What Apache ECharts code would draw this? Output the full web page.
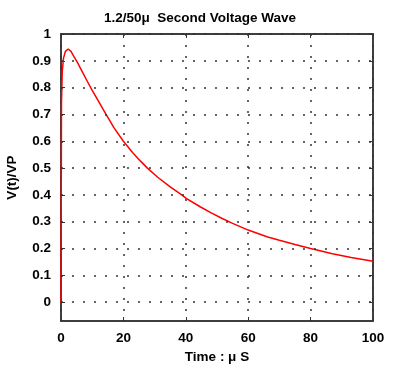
<!DOCTYPE html>
<html><head><meta charset="utf-8">
<script src="https://cdn.jsdelivr.net/npm/echarts@6/dist/echarts.min.js"></script>
<style>html,body{margin:0;padding:0;background:#fff}#c{width:400px;height:365px}</style>
</head><body><div id="c"></div>
<script>
var timeUs = [0, 0.15, 0.4, 0.8, 1.4, 2.3, 3.2, 4.2, 5.3, 7, 8.5, 10, 12, 14.3, 17, 20, 23, 25.5, 27.7, 31, 35, 38.7, 40, 44.6, 48, 51.5, 55, 60, 66, 70, 75, 80, 87, 93, 100];
var voltage = [0, 0.74, 0.86, 0.91, 0.935, 0.944, 0.935, 0.915, 0.893, 0.855, 0.822, 0.79, 0.75, 0.703, 0.65, 0.6, 0.557, 0.526, 0.5, 0.466, 0.43, 0.4, 0.388, 0.356, 0.334, 0.313, 0.294, 0.269, 0.244, 0.231, 0.215, 0.2, 0.181, 0.167, 0.153];
var yTicks = [0, 0.1, 0.2, 0.3, 0.4, 0.5, 0.6, 0.7, 0.8, 0.9, 1];
var xTicks = [0, 20, 40, 60, 80, 100];

var fontFam = '"Liberation Sans", Arial, sans-serif';
var gridLine = {show: true, lineStyle: {color: '#333', type: [2, 9], width: 1.5}};
var chart = echarts.init(document.getElementById('c'));
chart.setOption({
  animation: false,
  title: {text: '1.2/50\u03bc  Second Voltage Wave', left: 'center', top: 6,
    textStyle: {fontFamily: fontFam, fontWeight: 'bold', fontSize: 13.5, color: '#000'}},
  grid: {left: 61, right: 27, top: 34, bottom: 44, show: true, borderColor: '#333', borderWidth: 1.5,
    containLabel: false, outerBoundsMode: 'none'},
  xAxis: [{
    type: 'value', min: 0, max: 100, interval: 20,
    name: 'Time : \u03bc S', nameLocation: 'middle', nameGap: 26,
    nameTextStyle: {fontFamily: fontFam, fontWeight: 'bold', fontSize: 13.5, color: '#000'},
    axisLine: {show: true, onZero: false, lineStyle: {color: '#333', width: 1.5}},
    axisTick: {show: true, inside: true, length: 4, lineStyle: {color: '#333'}},
    axisLabel: {margin: 10, fontFamily: fontFam, fontWeight: 'bold', fontSize: 13.5, color: '#000',
      customValues: xTicks},
    splitLine: gridLine
  }, {
    type: 'value', min: 0, max: 100, interval: 20, position: 'top',
    axisLine: {show: true, onZero: false, lineStyle: {color: '#333', width: 1.5}},
    axisTick: {show: true, inside: true, length: 4, lineStyle: {color: '#333'}},
    axisLabel: {show: false}, splitLine: {show: false}
  }],
  yAxis: [{
    type: 'value', min: -0.07, max: 1,
    name: 'V(t)/VP', nameLocation: 'middle', nameGap: 42, nameRotate: 90,
    nameTextStyle: {fontFamily: fontFam, fontWeight: 'bold', fontSize: 13.5, color: '#000'},
    axisLine: {show: true, onZero: false, lineStyle: {color: '#333', width: 1.5}},
    axisTick: {show: true, inside: true, length: 4, lineStyle: {color: '#333'}, customValues: yTicks},
    axisLabel: {margin: 10, fontFamily: fontFam, fontWeight: 'bold', fontSize: 13.5, color: '#000',
      customValues: yTicks},
    splitLine: {show: false}
  }, {
    type: 'value', min: -0.07, max: 1, position: 'right',
    axisLine: {show: true, onZero: false, lineStyle: {color: '#333', width: 1.5}},
    axisTick: {show: true, inside: true, length: 4, lineStyle: {color: '#333'}, customValues: yTicks},
    axisLabel: {show: false}, splitLine: {show: false}
  }],
  series: [{
    type: 'line', xAxisIndex: 0, yAxisIndex: 0, showSymbol: false, smooth: false,
    lineStyle: {color: '#ff0000', width: 1.5},
    data: timeUs.map(function (t, i) { return [t, voltage[i]]; }),
    markLine: {silent: true, symbol: 'none', label: {show: false},
      lineStyle: {color: '#333', type: [2, 9], width: 1.5},
      data: yTicks.map(function (v) { return {yAxis: v}; })}
  }]
});
</script></body></html>
